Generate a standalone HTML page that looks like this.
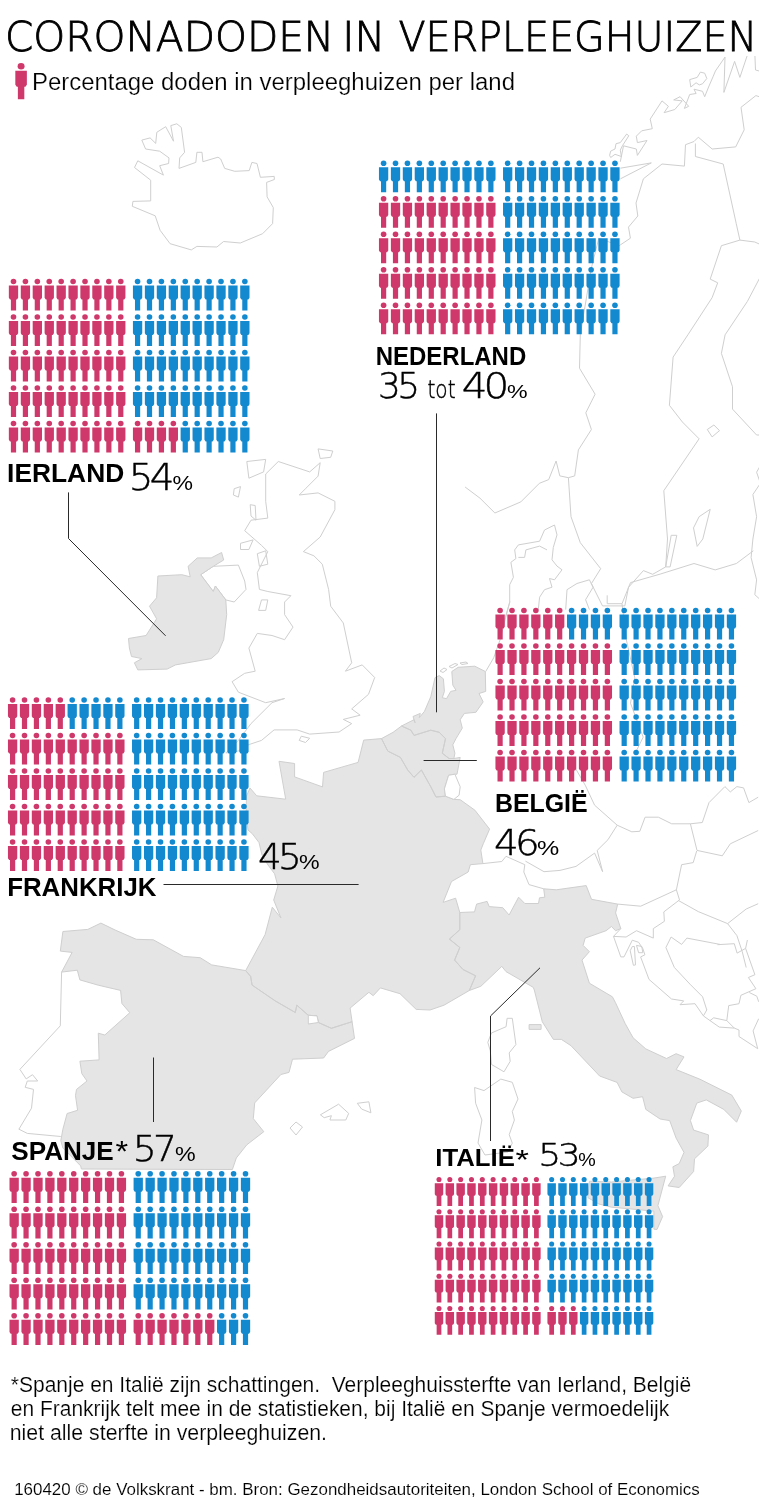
<!DOCTYPE html>
<html lang="nl"><head><meta charset="utf-8"><title>Coronadoden in verpleeghuizen</title>
<style>
html,body{margin:0;padding:0;background:#fff}
svg{display:block}
text{font-family:"Liberation Sans",Arial,sans-serif;fill:#000}
.lt{font-family:"DejaVu Sans Light","DejaVu Sans","Liberation Sans",sans-serif;font-weight:200;stroke:#000;stroke-width:0.45}
.b{font-weight:bold}
.f{stroke:#fff;stroke-width:0.2}
.c{stroke:#fff;stroke-width:0.12}
</style></head><body>
<svg width="763" height="1508" viewBox="0 0 763 1508">
<defs>
<g id="p"><circle r="2.8"/><path d="M-4.65 4H4.65V16.3L3.5 18H2.6V29.1H-2.6V18H-3.5L-4.65 16.3Z"/></g>
<g id="r"><use href="#p" x="0.00"/><use href="#p" x="11.92"/><use href="#p" x="23.84"/><use href="#p" x="35.76"/><use href="#p" x="47.68"/><use href="#p" x="59.60"/><use href="#p" x="71.52"/><use href="#p" x="83.44"/><use href="#p" x="95.36"/><use href="#p" x="107.28"/></g>
</defs>
<rect width="763" height="1508" fill="#fff"/>
<clipPath id="mc"><rect x="0" y="56" width="759" height="1200"/></clipPath>
<g stroke="#cfcfcf" stroke-width="1" stroke-linejoin="round" fill="none" clip-path="url(#mc)">
<path d="M61.6 972.1 60.3 1025.8 19.9 1069.4 26.2 1078.9 32.5 1074.7 37.7 1081.0 27.3 1081.0 25.2 1087.3 33.5 1089.4 31.5 1108.2 18.9 1129.2 27.3 1133.4 60.8 1136.5M482.9 863.6 501.8 861.5 506.0 856.3 524.8 864.7 523.8 872.0 529.0 884.6 543.7 888.8M764.5 98.8 759.2 96.7 755.9 95.6 741.0 107.3 744.2 129.8 735.7 146.9 712.2 149.0 698.3 137.2 694.0 141.5 685.5 144.7 684.4 166.1 662.0 164.0 643.4 178.8 636.0 203.0 637.8 216.0 628.5 227.1 630.4 238.2 619.2 245.7 598.8 238.2 591.4 267.9 580.3 334.8 579.5 368.2 595.1 394.2 585.8 412.8 591.4 429.5 578.4 449.9 574.7 475.9 568.4 477.7M465.1 487.0 480.0 498.2 494.9 513.0 520.8 501.9 539.4 483.3 548.7 479.6 556.1 461.0 559.8 475.9 568.4 477.7 571.0 516.7 580.3 542.7 600.7 568.7 591.4 583.6 602.5 605.9 624.8 605.9 628.5 587.3 643.4 570.6 652.7 574.3 665.7 566.9 667.5 539.0 663.8 490.7 699.1 438.8 682.4 422.0 669.4 405.3 673.1 357.1 687.9 334.8 712.1 297.7 717.7 282.8 710.2 279.1 721.4 245.7 739.9 240.1 754.8 242.0 763.0 245.7M739.9 240.1 736.2 223.4 723.2 164.0 695.4 156.5 695.4 143.5M763.0 271.7 747.4 301.4 725.1 334.8 721.4 353.4 732.5 386.8 732.5 409.1 756.6 435.0 763.0 435.0M620.3 168.2 651.3 162.9 620.3 178.9M620.3 161.8 623.5 145.8 636.3 149.0 637.4 155.4 647.0 140.5 637.4 142.6 636.3 136.2 641.7 130.8 652.3 128.7 650.2 119.1 662.0 100.9 668.4 106.3 664.1 112.7 674.8 109.5 682.2 100.9 673.7 99.9 680.1 96.7 688.7 106.3 684.4 108.4 689.7 94.5 696.1 93.5 694.0 89.2 702.5 91.3 704.7 96.7 709.0 86.0 713.2 76.4 715.4 71.0 725.0 57.1 723.9 92.4 734.6 61.4 739.9 77.4 747.4 55.0M754.9 55.0 755.5 70.0 759.2 71.0M763.0 461.0 756.6 472.2 760.4 483.3 752.9 494.5 756.6 516.7 752.9 539.0 751.1 557.6 756.6 579.9 754.8 594.7 763.0 602.1M538.3 609.6 539.6 597.2 544.5 589.7 552.0 587.2 549.5 578.5 554.5 579.8 562.0 569.8 557.0 566.1 552.0 559.8 553.3 547.4 557.0 534.9 554.5 525.0 544.5 530.0 539.6 541.2 518.4 544.9 514.7 549.9 515.9 558.6 510.9 562.3 513.4 577.3 509.7 584.7 509.7 602.2 504.7 619.6M518.4 557.4 524.6 557.4 525.9 549.9 539.6 546.1 547.0 549.9M565.7 609.6 567.0 589.7 576.9 583.5 589.4 579.8 593.1 587.2 585.6 599.7 589.4 609.6M485.7 671.5 493.7 657.8 500.0 640.0 505.0 620.0 509.9 601.6M607.2 595.3 607.2 603.7 622.0 603.7 630.5 582.6 660.2 574.1 694.0 563.5 715.2 569.9 736.4 563.5 753.3 550.8M622.0 603.7 626.3 639.7 634.8 677.8 630.5 703.2 643.2 737.1 634.8 754.0M570.6 760.0 585.3 785.3 594.6 805.2 617.2 825.2 631.8 831.8 639.8 831.3 645.1 817.2 658.4 817.2 671.7 823.8 690.4 823.8 702.3 822.5 709.0 802.6 724.9 786.6 730.3 791.9 736.9 786.6 743.6 787.9 748.9 802.6 758.2 797.2M525.4 861.1 544.0 871.7 560.0 870.4 576.0 866.4 594.6 853.1 602.6 871.7 597.2 850.4 607.9 839.8 617.2 825.2M690.4 823.8 697.0 850.4 722.3 855.8 730.3 843.8 758.2 830.5M678.4 900.5 698.3 911.6 727.6 923.6 746.2 909.0 758.2 903.7M727.6 923.6 736.9 935.6 742.2 951.5 746.2 967.5M617.7 904.1 640.7 906.2 676.4 889.8 681.6 864.7 693.2 862.6 696.7 851.0M676.4 889.8 679.5 899.9 663.8 911.9 664.4 921.3 653.3 928.6 653.3 938.1 636.5 930.7 626.1 937.0 613.5 936.4 620.8 928.6M613.5 936.4 620.8 956.9 624.0 956.9 632.3 940.2 638.6 942.3 642.8 948.6 644.9 954.8 640.7 956.9M665.9 947.5 671.1 937.0 681.6 944.4 686.9 938.1 720.0 944.4M665.9 947.5 674.3 967.4 690.0 984.2 702.6 996.8 706.8 1010.0M640.6 956.9 649.0 979.4 671.5 999.0 683.7 1000.9 680.0 1004.7 695.0 1003.7 703.4 1015.9 710.0 1020.6 719.3 1027.1 734.3 1028.1 739.0 1030.0 739.0 1036.5 757.7 1048.7M710.0 1020.6 713.7 1017.8 726.8 1020.6 734.3 1028.1M706.8 1009.9 703.4 1015.9M717.5 944.7 734.3 943.7 737.1 953.1 745.6 948.4 747.4 940.0M745.6 948.4 754.9 974.7 748.4 977.5 755.9 988.7 740.9 995.3 739.0 1003.7 728.7 1005.6 726.8 1020.6M749.3 992.5 756.8 996.2 758.7 1001.8M758.7 1018.7 753.1 1030.9 757.7 1048.7"/>
<path d="M474.6 1087.5 484.0 1090.6 500.8 1079.1 512.3 1082.3 518.0 1099.0 512.3 1111.6 514.4 1120.0 509.2 1134.7 512.3 1143.1 508.0 1152.0 485.0 1155.0 478.0 1143.0 481.9 1120.0 475.6 1103.2ZM507.1 1018.3 512.3 1018.3 515.9 1044.5 509.2 1052.9 510.2 1061.3 504.0 1071.8 491.4 1064.4 490.3 1050.8 487.8 1042.4 491.4 1033.0 506.1 1026.7ZM141.8 140.1 150.1 137.9 155.7 143.4 156.8 132.3 165.7 126.7 173.5 141.2 170.8 125.6 176.8 123.8 181.3 127.4 184.6 152.3 179.7 157.9 179.0 168.4 195.8 162.4 196.9 152.3 202.0 152.3 202.9 161.7 218.0 157.2 220.7 159.0 224.7 168.4 234.8 171.3 249.2 170.6 251.9 162.4 257.0 163.5 260.4 177.3 274.2 176.4 274.4 179.5 266.6 182.4 267.1 196.9 273.3 207.6 272.6 223.6 262.6 233.7 240.3 243.0 223.6 241.5 216.9 247.0 196.9 246.4 191.3 249.9 170.1 243.7 160.1 230.3 155.2 215.8 132.3 206.3 132.9 201.4 150.7 200.9 150.7 180.2 134.5 167.5 137.8 160.8 163.4 175.1 159.7 165.7 168.6 163.5 169.0 157.9 159.7 151.2 145.6 149.0ZM200.7 574.7 213.3 566.3 238.4 565.1 244.7 581.0 246.0 589.4 234.2 602.0 225.8 599.9 215.4 586.0 213.3 591.5ZM265.7 474.0 278.3 461.5 309.7 471.9 320.2 462.7 318.1 476.1 305.5 488.7 299.2 495.0 318.1 492.9 334.9 501.3 334.9 509.7 320.2 537.0 303.4 551.6 313.9 555.8 322.3 564.2 328.6 589.4 330.7 606.2 343.3 623.0 351.7 662.8 345.4 671.2 362.2 664.9 374.7 677.5 368.5 694.3 351.7 708.9 360.1 715.2 343.3 719.4 351.7 723.6 339.1 732.0 309.7 734.1 297.1 729.9 274.1 729.9 261.5 740.4 248.9 744.6 238.4 750.9 225.8 753.0 238.4 740.4 251.0 723.6 272.0 702.7 284.6 698.5 265.7 702.7 238.4 692.2 232.1 681.7 244.7 673.3 255.2 671.2 248.9 648.1 257.3 633.4 272.0 635.5 284.6 639.7 293.0 627.1 284.6 614.6 284.6 602.0 290.9 595.7 267.8 591.5 259.4 589.4 257.3 572.6 267.8 551.6 261.5 545.4 244.7 530.7 251.0 520.2 267.8 518.1 265.7 501.3ZM246.8 461.5 265.7 459.4 263.6 471.9 248.9 478.2ZM234.2 488.7 240.5 486.6 238.4 497.1 233.4 495.0ZM250.2 504.7 255.2 505.5 256.0 520.2 251.0 516.0ZM240.5 543.3 253.1 539.9 248.9 549.5 240.5 549.5ZM257.3 553.7 265.7 550.8 267.8 564.2 259.4 566.3ZM261.5 599.9 267.8 599.9 265.7 610.4 258.6 610.4ZM301.3 736.2 309.7 738.3 305.5 742.5 299.2 740.4ZM318.1 448.9 332.8 451.0 330.7 457.3 320.2 458.5ZM320.4 1114.8 338.6 1104.2 348.7 1113.4 345.8 1120.0 329.9 1120.0 331.4 1115.7 324.2 1117.7ZM357.3 1103.3 368.9 1101.8 370.9 1112.8 361.7 1109.1ZM290.0 1128.0 296.0 1122.0 302.5 1127.0 296.0 1135.0ZM609.6 155.4 610.7 151.1 615.0 149.0 616.0 143.7 620.3 142.6 626.7 134.0 628.8 135.8 622.4 145.8 620.3 150.1 621.4 156.5 615.0 154.3 610.7 157.5ZM689.7 79.6 697.2 77.4 700.4 72.1 704.7 73.2 706.8 78.5 702.5 83.8 699.3 84.9 696.1 82.8 690.8 87.0ZM693.5 527.9 699.1 516.7 710.2 509.3 702.8 539.0 697.2 546.4ZM665.7 566.9 671.2 535.3 676.8 535.3 670.1 566.9ZM707.3 429.5 713.9 425.0 719.5 430.6 712.1 436.9ZM440.0 671.0 444.0 668.0 447.0 669.5 443.0 672.5ZM449.0 666.5 455.0 663.5 458.0 664.5 452.0 668.0ZM460.0 663.0 466.0 662.0 468.0 663.5 462.0 664.5ZM632.3 946.5 630.2 950.7 633.4 965.3 635.5 964.9 634.4 946.5ZM636.5 945.4 641.8 946.5 642.8 952.7 638.6 952.7Z"/>
<path fill="#e5e5e5" d="M381.5 738.6 363.7 740.1 358.1 762.4 323.6 772.4 322.5 786.9 294.6 776.9 294.6 763.5 279.0 761.3 285.7 799.2 256.7 795.8 250.0 788.0 246.5 796.0 246.0 815.0 248.0 830.0 252.3 833.7 259.0 842.6 262.0 855.0 268.0 865.0 274.6 873.8 277.9 886.0 273.7 900.0 280.9 917.9 272.3 907.2 265.1 934.6 245.7 970.6 250.6 976.4 252.1 985.1 275.2 1000.9 295.3 1012.5 296.8 1005.2 308.3 1015.3 317.0 1015.9 318.4 1022.5 331.4 1028.3 352.1 1021.7 350.1 1008.1 368.9 992.3 373.2 995.7 380.4 987.9 400.0 993.7 416.2 1009.4 430.0 1010.0 444.0 1005.2 469.3 990.5 475.6 975.8 463.0 969.5 454.6 960.1 459.8 947.5 449.4 939.1 459.8 929.7 459.8 912.5 455.6 898.2 443.1 902.4 451.5 881.5 468.2 872.0 470.3 864.7 482.9 863.6 480.8 850.0 483.3 843.7 489.6 829.1 474.9 810.2 460.2 799.7 453.9 799.4 445.5 796.2 436.0 797.0 430.8 786.8 421.4 770.0 414.0 777.3 407.7 770.0 400.4 757.4 387.8 751.1 381.5 738.6ZM381.5 738.6 387.8 751.1 400.4 757.4 407.7 770.0 414.0 777.3 421.4 770.0 430.8 786.8 436.0 797.0 445.5 796.2 444.4 788.9 448.6 775.3 454.9 774.2 457.0 774.2 460.2 757.4 453.9 758.5 449.0 758.5 442.3 753.2 445.5 738.6 439.2 732.3 430.8 730.2 414.0 735.4 410.9 730.2 401.5 726.0 393.1 732.3ZM401.5 726.0 405.6 723.9 414.0 719.7 415.1 722.8 413.0 716.5 420.3 713.4 419.3 717.6 424.5 711.3 430.8 696.6 435.0 677.7 439.2 675.6 443.4 678.8 444.4 691.4 442.3 697.7 446.5 698.7 450.7 691.4 456.0 690.3 452.8 685.1 451.8 671.5 458.1 667.3 474.8 666.2 485.3 671.5 485.7 691.4 479.0 693.5 483.2 701.9 475.9 712.3 464.4 713.4 460.2 719.7 462.3 728.1 456.0 738.6 452.8 744.8 454.9 753.2 453.9 758.5 449.0 758.5 442.3 753.2 445.5 738.6 439.2 732.3 430.8 730.2 414.0 735.4 410.9 730.2ZM62.9 931.5 87.8 929.4 100.9 923.1 115.3 930.1 136.3 939.3 153.3 939.8 183.5 956.4 200.2 957.7 211.7 964.9 245.7 970.6 250.6 976.4 252.1 985.1 275.2 1000.9 295.3 1012.5 296.8 1005.2 308.3 1015.3 317.0 1015.9 318.4 1022.5 331.4 1028.3 352.1 1021.7 354.5 1038.4 328.5 1051.4 323.6 1058.0 292.5 1059.2 289.0 1072.4 280.9 1074.5 254.7 1102.9 253.3 1118.6 263.8 1131.7 246.8 1144.8 236.3 1158.0 232.4 1169.5 81.4 1169.0 80.7 1165.9 62.9 1148.0 60.8 1140.7 62.9 1129.2 67.1 1113.5 77.6 1110.3 75.5 1095.6 76.5 1089.4 87.0 1081.0 81.8 1073.6 79.9 1061.2 99.1 1059.9 98.3 1033.2 104.8 1035.0 129.8 1012.7 121.9 1003.5 120.6 990.4 98.3 985.2 79.9 979.9 77.3 970.2 61.6 972.1 72.1 952.4 60.3 951.1ZM459.8 912.5 474.5 911.9 476.6 904.1 487.1 901.4 489.2 906.6 502.8 907.7 509.1 915.0 518.6 897.2 524.8 903.5 538.5 903.5 539.5 897.8 544.8 897.2 543.7 888.8 556.3 889.8 586.2 885.6 591.5 899.3 617.7 904.1 615.6 912.9 620.8 928.6 615.6 930.7 611.4 926.5 606.1 930.7 585.2 938.1 583.1 945.4 589.4 951.7 582.0 960.1 589.4 983.2 612.4 996.8 615.5 1002.7 625.1 1023.4 633.1 1037.8 645.8 1048.9 666.5 1058.5 676.1 1053.7 684.0 1056.9 676.1 1069.6 699.9 1079.2 731.8 1095.1 741.3 1111.0 736.6 1122.2 723.8 1109.4 706.3 1099.9 696.8 1103.1 690.4 1120.6 693.6 1130.1 708.5 1134.9 707.9 1146.1 694.5 1158.8 693.6 1171.5 679.2 1187.5 668.1 1185.9 674.5 1176.3 672.9 1166.8 679.2 1163.6 684.0 1152.4 676.1 1138.1 669.7 1120.6 660.1 1119.0 645.8 1109.4 642.6 1096.7 633.1 1098.3 621.9 1091.9 617.1 1082.4 599.6 1076.0 571.0 1045.7 561.4 1039.4 553.4 1039.4 542.3 1021.8 539.1 1009.1 534.3 990.0 533.2 987.3 520.6 980.0 506.0 971.6 501.8 966.4 480.8 986.3 469.3 990.5 475.6 975.8 463.0 969.5 454.6 960.1 459.8 947.5 449.4 939.1 459.8 929.7ZM589.4 1181.2 611.5 1182.0 653.9 1178.1 665.7 1176.2 657.9 1205.6 662.6 1216.6 657.0 1229.5 653.9 1229.2 653.9 1211.1 611.5 1207.2 598.9 1204.0 587.9 1197.7ZM529.1 1024.6 541.1 1024.6 541.1 1029.4 529.1 1029.4ZM188.1 566.3 197.3 557.9 211.2 557.9 221.6 552.5 223.7 560.0 213.3 566.3 200.7 574.7 213.3 591.5 215.4 586.0 225.8 599.9 226.7 614.6 223.7 639.7 218.3 652.3 211.2 658.6 175.5 664.9 167.1 669.1 137.8 669.9 134.4 662.8 141.9 658.6 131.5 656.5 129.4 648.1 128.5 638.5 146.1 635.5 156.6 618.8 149.5 606.2 156.6 597.8 157.9 576.0 181.8 574.7 190.2 576.8Z"/>
<path fill="#fff" d="M308.3 1015.3 317.0 1015.9 318.4 1022.5 308.3 1024.0ZM448.6 775.3 454.9 774.2 460.2 786.8 459.1 795.2 453.9 799.4 445.5 796.2 444.4 788.9Z"/>
</g>
<g fill="none" stroke="#2a2a2a" stroke-width="1">
<path d="M436.5 413.4V712.3"/>
<path d="M68.5 492.4V538.5L165.6 635.8"/>
<path d="M423.6 760.5H476.8"/>
<path d="M163.5 884.5H358.6"/>
<path d="M153.5 1057.5V1122"/>
<path d="M540 967.8L490.5 1016V1141"/>
</g>
<use href="#p" fill="#cf386b" transform="translate(21.1 66.2) scale(1.24 1.14)"/>
<use href="#r" fill="#1389cf" transform="translate(383.60 163.20)"/>
<use href="#r" fill="#cf386b" transform="translate(383.60 198.70)"/>
<use href="#r" fill="#cf386b" transform="translate(383.60 234.20)"/>
<use href="#r" fill="#cf386b" transform="translate(383.60 269.70)"/>
<use href="#r" fill="#cf386b" transform="translate(383.60 305.20)"/>
<use href="#r" fill="#1389cf" transform="translate(507.68 163.20)"/>
<use href="#r" fill="#1389cf" transform="translate(507.68 198.70)"/>
<use href="#r" fill="#1389cf" transform="translate(507.68 234.20)"/>
<use href="#r" fill="#1389cf" transform="translate(507.68 269.70)"/>
<use href="#r" fill="#1389cf" transform="translate(507.68 305.20)"/>
<use href="#r" fill="#cf386b" transform="translate(13.50 281.50)"/>
<use href="#r" fill="#cf386b" transform="translate(13.50 317.00)"/>
<use href="#r" fill="#cf386b" transform="translate(13.50 352.50)"/>
<use href="#r" fill="#cf386b" transform="translate(13.50 388.00)"/>
<use href="#r" fill="#cf386b" transform="translate(13.50 423.50)"/>
<use href="#r" fill="#1389cf" transform="translate(137.58 281.50)"/>
<use href="#r" fill="#1389cf" transform="translate(137.58 317.00)"/>
<use href="#r" fill="#1389cf" transform="translate(137.58 352.50)"/>
<use href="#r" fill="#1389cf" transform="translate(137.58 388.00)"/>
<use href="#p" fill="#cf386b" transform="translate(137.58 423.50)"/>
<use href="#p" fill="#cf386b" transform="translate(149.50 423.50)"/>
<use href="#p" fill="#cf386b" transform="translate(161.42 423.50)"/>
<use href="#p" fill="#cf386b" transform="translate(173.34 423.50)"/>
<use href="#p" fill="#1389cf" transform="translate(185.26 423.50)"/>
<use href="#p" fill="#1389cf" transform="translate(197.18 423.50)"/>
<use href="#p" fill="#1389cf" transform="translate(209.10 423.50)"/>
<use href="#p" fill="#1389cf" transform="translate(221.02 423.50)"/>
<use href="#p" fill="#1389cf" transform="translate(232.94 423.50)"/>
<use href="#p" fill="#1389cf" transform="translate(244.86 423.50)"/>
<use href="#p" fill="#cf386b" transform="translate(500.10 610.50)"/>
<use href="#p" fill="#cf386b" transform="translate(512.02 610.50)"/>
<use href="#p" fill="#cf386b" transform="translate(523.94 610.50)"/>
<use href="#p" fill="#cf386b" transform="translate(535.86 610.50)"/>
<use href="#p" fill="#cf386b" transform="translate(547.78 610.50)"/>
<use href="#p" fill="#cf386b" transform="translate(559.70 610.50)"/>
<use href="#p" fill="#1389cf" transform="translate(571.62 610.50)"/>
<use href="#p" fill="#1389cf" transform="translate(583.54 610.50)"/>
<use href="#p" fill="#1389cf" transform="translate(595.46 610.50)"/>
<use href="#p" fill="#1389cf" transform="translate(607.38 610.50)"/>
<use href="#r" fill="#cf386b" transform="translate(500.10 646.00)"/>
<use href="#r" fill="#cf386b" transform="translate(500.10 681.50)"/>
<use href="#r" fill="#cf386b" transform="translate(500.10 717.00)"/>
<use href="#r" fill="#cf386b" transform="translate(500.10 752.50)"/>
<use href="#r" fill="#1389cf" transform="translate(624.18 610.50)"/>
<use href="#r" fill="#1389cf" transform="translate(624.18 646.00)"/>
<use href="#r" fill="#1389cf" transform="translate(624.18 681.50)"/>
<use href="#r" fill="#1389cf" transform="translate(624.18 717.00)"/>
<use href="#r" fill="#1389cf" transform="translate(624.18 752.50)"/>
<use href="#p" fill="#cf386b" transform="translate(12.60 700.00)"/>
<use href="#p" fill="#cf386b" transform="translate(24.52 700.00)"/>
<use href="#p" fill="#cf386b" transform="translate(36.44 700.00)"/>
<use href="#p" fill="#cf386b" transform="translate(48.36 700.00)"/>
<use href="#p" fill="#cf386b" transform="translate(60.28 700.00)"/>
<use href="#p" fill="#1389cf" transform="translate(72.20 700.00)"/>
<use href="#p" fill="#1389cf" transform="translate(84.12 700.00)"/>
<use href="#p" fill="#1389cf" transform="translate(96.04 700.00)"/>
<use href="#p" fill="#1389cf" transform="translate(107.96 700.00)"/>
<use href="#p" fill="#1389cf" transform="translate(119.88 700.00)"/>
<use href="#r" fill="#cf386b" transform="translate(12.60 735.50)"/>
<use href="#r" fill="#cf386b" transform="translate(12.60 771.00)"/>
<use href="#r" fill="#cf386b" transform="translate(12.60 806.50)"/>
<use href="#r" fill="#cf386b" transform="translate(12.60 842.00)"/>
<use href="#r" fill="#1389cf" transform="translate(136.68 700.00)"/>
<use href="#r" fill="#1389cf" transform="translate(136.68 735.50)"/>
<use href="#r" fill="#1389cf" transform="translate(136.68 771.00)"/>
<use href="#r" fill="#1389cf" transform="translate(136.68 806.50)"/>
<use href="#r" fill="#1389cf" transform="translate(136.68 842.00)"/>
<use href="#r" fill="#cf386b" transform="translate(14.15 1173.80)"/>
<use href="#r" fill="#cf386b" transform="translate(14.15 1209.30)"/>
<use href="#r" fill="#cf386b" transform="translate(14.15 1244.80)"/>
<use href="#r" fill="#cf386b" transform="translate(14.15 1280.30)"/>
<use href="#r" fill="#cf386b" transform="translate(14.15 1315.80)"/>
<use href="#r" fill="#1389cf" transform="translate(138.23 1173.80)"/>
<use href="#r" fill="#1389cf" transform="translate(138.23 1209.30)"/>
<use href="#r" fill="#1389cf" transform="translate(138.23 1244.80)"/>
<use href="#r" fill="#1389cf" transform="translate(138.23 1280.30)"/>
<use href="#p" fill="#cf386b" transform="translate(138.23 1315.80)"/>
<use href="#p" fill="#cf386b" transform="translate(150.15 1315.80)"/>
<use href="#p" fill="#cf386b" transform="translate(162.07 1315.80)"/>
<use href="#p" fill="#cf386b" transform="translate(173.99 1315.80)"/>
<use href="#p" fill="#cf386b" transform="translate(185.91 1315.80)"/>
<use href="#p" fill="#cf386b" transform="translate(197.83 1315.80)"/>
<use href="#p" fill="#cf386b" transform="translate(209.75 1315.80)"/>
<use href="#p" fill="#1389cf" transform="translate(221.67 1315.80)"/>
<use href="#p" fill="#1389cf" transform="translate(233.59 1315.80)"/>
<use href="#p" fill="#1389cf" transform="translate(245.51 1315.80)"/>
<use href="#r" fill="#cf386b" transform="translate(439.00 1179.50) scale(0.908)"/>
<use href="#r" fill="#cf386b" transform="translate(439.00 1211.73) scale(0.908)"/>
<use href="#r" fill="#cf386b" transform="translate(439.00 1243.97) scale(0.908)"/>
<use href="#r" fill="#cf386b" transform="translate(439.00 1276.20) scale(0.908)"/>
<use href="#r" fill="#cf386b" transform="translate(439.00 1308.44) scale(0.908)"/>
<use href="#r" fill="#1389cf" transform="translate(551.66 1179.50) scale(0.908)"/>
<use href="#r" fill="#1389cf" transform="translate(551.66 1211.73) scale(0.908)"/>
<use href="#r" fill="#1389cf" transform="translate(551.66 1243.97) scale(0.908)"/>
<use href="#r" fill="#1389cf" transform="translate(551.66 1276.20) scale(0.908)"/>
<use href="#p" fill="#cf386b" transform="translate(551.66 1308.44) scale(0.908)"/>
<use href="#p" fill="#cf386b" transform="translate(562.49 1308.44) scale(0.908)"/>
<use href="#p" fill="#cf386b" transform="translate(573.31 1308.44) scale(0.908)"/>
<use href="#p" fill="#1389cf" transform="translate(584.13 1308.44) scale(0.908)"/>
<use href="#p" fill="#1389cf" transform="translate(594.96 1308.44) scale(0.908)"/>
<use href="#p" fill="#1389cf" transform="translate(605.78 1308.44) scale(0.908)"/>
<use href="#p" fill="#1389cf" transform="translate(616.60 1308.44) scale(0.908)"/>
<use href="#p" fill="#1389cf" transform="translate(627.43 1308.44) scale(0.908)"/>
<use href="#p" fill="#1389cf" transform="translate(638.25 1308.44) scale(0.908)"/>
<use href="#p" fill="#1389cf" transform="translate(649.07 1308.44) scale(0.908)"/>
<text class="lt" x="4.91" y="51" font-size="41.6" textLength="329.37" lengthAdjust="spacingAndGlyphs" style="stroke-width:0.85">CORONADODEN</text>
<text class="lt" x="342.35" y="51" font-size="41.6" textLength="42.94" lengthAdjust="spacingAndGlyphs" style="stroke-width:0.85">IN</text>
<text class="lt" x="398.38" y="51" font-size="41.6" textLength="358.73" lengthAdjust="spacingAndGlyphs" style="stroke-width:0.85">VERPLEEGHUIZEN</text>
<text class="f" x="31.98" y="90" font-size="23" textLength="483.03" lengthAdjust="spacingAndGlyphs">Percentage doden in verpleeghuizen per land</text>
<text class="b" x="375.77" y="365.4" font-size="25.6" textLength="150.48" lengthAdjust="spacingAndGlyphs">NEDERLAND</text>
<text class="lt" x="378.11" y="397.6" font-size="36.0" textLength="38.48" lengthAdjust="spacingAndGlyphs" letter-spacing="-0.1em">35</text>
<text class="lt" x="427.45" y="397.6" font-size="24.5" textLength="28.09" lengthAdjust="spacingAndGlyphs">tot</text>
<text class="lt" x="461.69" y="397.6" font-size="36.0" textLength="43.44" lengthAdjust="spacingAndGlyphs" letter-spacing="-0.1em">40</text>
<text x="506.90" y="397.6" font-size="19" textLength="20.62" lengthAdjust="spacingAndGlyphs">%</text>
<text class="b" x="7.09" y="482" font-size="26.3" textLength="117.15" lengthAdjust="spacingAndGlyphs">IERLAND</text>
<text class="lt" x="128.83" y="490.4" font-size="36.6" textLength="41.67" lengthAdjust="spacingAndGlyphs" letter-spacing="-0.1em">54</text>
<text x="172.60" y="490.4" font-size="19.5" textLength="20.50" lengthAdjust="spacingAndGlyphs">%</text>
<text class="b" x="494.93" y="812.1" font-size="25.8" textLength="92.75" lengthAdjust="spacingAndGlyphs">BELGIË</text>
<text class="lt" x="494.13" y="854.5" font-size="36.0" textLength="41.75" lengthAdjust="spacingAndGlyphs" letter-spacing="-0.1em">46</text>
<text x="536.90" y="854.5" font-size="19.5" textLength="22.26" lengthAdjust="spacingAndGlyphs">%</text>
<text class="b" x="7.17" y="895.8" font-size="25.6" textLength="149.27" lengthAdjust="spacingAndGlyphs">FRANKRIJK</text>
<text class="lt" x="257.95" y="868.8" font-size="35.5" textLength="40.05" lengthAdjust="spacingAndGlyphs" letter-spacing="-0.1em">45</text>
<text x="298.90" y="868.8" font-size="19.5" textLength="20.62" lengthAdjust="spacingAndGlyphs">%</text>
<text class="b" x="11.25" y="1160.3" font-size="25.8" textLength="102.51" lengthAdjust="spacingAndGlyphs">SPANJE</text>
<text x="115.49" y="1161.0" font-size="30" textLength="12.63" lengthAdjust="spacingAndGlyphs">*</text>
<text class="lt" x="132.87" y="1160.6" font-size="35.5" textLength="40.37" lengthAdjust="spacingAndGlyphs" letter-spacing="-0.1em">57</text>
<text x="174.91" y="1160.6" font-size="19.5" textLength="20.68" lengthAdjust="spacingAndGlyphs">%</text>
<text class="b" x="435.25" y="1166.4" font-size="23.8" textLength="79.63" lengthAdjust="spacingAndGlyphs">ITALIË</text>
<text x="515.57" y="1169.2" font-size="28" textLength="13.46" lengthAdjust="spacingAndGlyphs">*</text>
<text class="lt" x="538.31" y="1166.4" font-size="31.6" textLength="38.71" lengthAdjust="spacingAndGlyphs" letter-spacing="-0.1em">53</text>
<text x="578.32" y="1166.4" font-size="17.5" textLength="17.49" lengthAdjust="spacingAndGlyphs">%</text>
<text class="f" x="10.79" y="1392" font-size="22" textLength="680.42" lengthAdjust="spacingAndGlyphs" xml:space="preserve">*Spanje en Italië zijn schattingen.  Verpleeghuissterfte van Ierland, België</text>
<text class="f" x="10.79" y="1416.2" font-size="22" textLength="658.42" lengthAdjust="spacingAndGlyphs">en Frankrijk telt mee in de statistieken, bij Italië en Spanje vermoedelijk</text>
<text class="f" x="9.77" y="1440" font-size="22" textLength="317.25" lengthAdjust="spacingAndGlyphs">niet alle sterfte in verpleeghuizen.</text>
<text class="c" x="14.19" y="1494.5" font-size="16.5" textLength="685.62" lengthAdjust="spacingAndGlyphs">160420 © de Volkskrant - bm. Bron: Gezondheidsautoriteiten, London School of Economics</text>
</svg>
</body></html>
